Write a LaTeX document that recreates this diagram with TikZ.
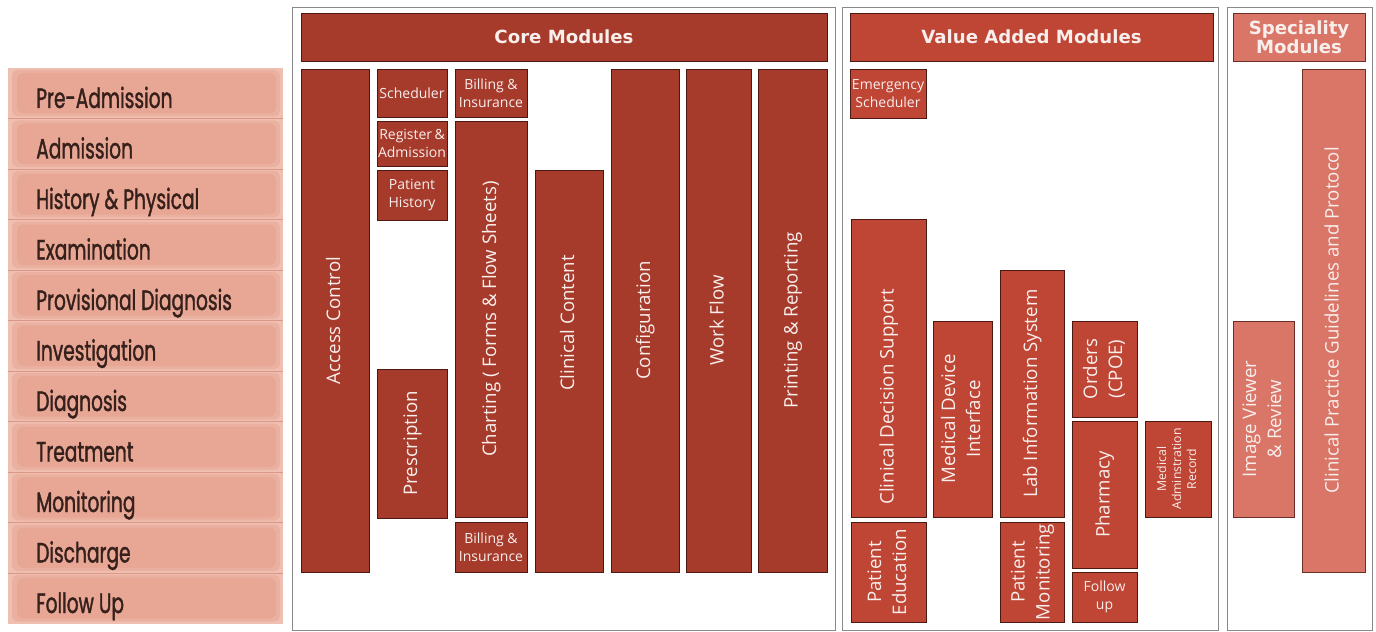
\documentclass[tikz,border=0pt]{standalone}
\usepackage{fontspec}
\setmainfont{Open Sans}
\newfontfamily\hdfont{DejaVu Sans}
\newfontfamily\stagefont{Poppins}[FakeStretch=0.665, FakeBold=1.3]
\usetikzlibrary{shadows}
\definecolor{corefill}{HTML}{A63B2C}
\definecolor{vafill}{HTML}{BF4535}
\definecolor{spfill}{HTML}{D97668}
\definecolor{boxedge}{HTML}{4A1A12}
\definecolor{spedge}{HTML}{6A3028}
\definecolor{boxtext}{HTML}{F8EEEC}
\definecolor{stageout}{HTML}{EFBFB1}
\definecolor{stagein}{HTML}{E8A795}
\definecolor{stageline}{HTML}{DC9684}
\definecolor{stagetext}{HTML}{36201C}
\definecolor{framegray}{HTML}{8A8A8A}
\newcommand{\mbx}[7]{\node[#2, anchor=north west, minimum width={(#5-#3)*0.75pt}, minimum height={(#6-#4)*0.75pt}] (#1) at (#3,#4) {#7};}
\newcommand{\rt}[1]{\rotatebox{90}{\begin{tabular}{@{}c@{}}#1\end{tabular}}}
\tikzset{
  modbox/.style={draw=boxedge, line width=0.5pt, inner sep=0pt, outer sep=0pt, text=boxtext,
    general shadow={fill=black!80!red, opacity=0.85, shadow xshift=1.1pt, shadow yshift=-1.1pt}},
  corebox/.style={modbox, fill=corefill},
  vabox/.style={modbox, fill=vafill},
  spbox/.style={modbox, fill=spfill, draw=spedge},
  bigtxt/.style={font=\fontsize{14}{18.75}\selectfont},
  smalltxt/.style={font=\fontsize{10.5}{13.5}\selectfont, align=center},
  martxt/.style={font=\fontsize{9.2}{11.25}\selectfont},
  headtxt/.style={font=\hdfont\bfseries\fontsize{13.6}{14.5}\selectfont, align=center},
  frame/.style={draw=framegray, line width=1.1pt, fill=white},
  freetxt/.style={text=boxtext, inner sep=0pt},
  stagelabel/.style={font=\stagefont\fontsize{21}{23}\selectfont, text=stagetext, anchor=base west, inner sep=0pt}
}
\begin{document}
\begin{tikzpicture}[x=0.75pt,y=-0.75pt]
\useasboundingbox[fill=white] (0,0) rectangle (1376,631);

% ---------- left stages ----------
\foreach \i/\lab in {0/Pre-Admission,1/Admission,2/History \& Physical,3/Examination,4/Provisional Diagnosis,5/Investigation,6/Diagnosis,7/Treatment,8/Monitoring,9/Discharge,10/Follow Up}{
  \pgfmathsetmacro{\yt}{68+50.5*\i}
  \pgfmathsetmacro{\yb}{\yt+50.5}
  \fill[stageout] (8,\yt) rectangle (283,\yb);
  \fill[stagein!60!stageout, rounded corners=4pt] (12,\yt+2) rectangle (280,\yb-2);
  \fill[stagein, rounded corners=5pt] (17,\yt+5) rectangle (276,\yb-5);
  \node[stagelabel] (stage\i) at (36,\yt+40) {\lab};
}
\foreach \i in {1,...,10}{
  \pgfmathsetmacro{\yl}{68+50.5*\i}
  \draw[stageline, line width=0.6pt] (8,\yl) -- (283,\yl);
}

% ---------- frames ----------
\mbx{corefr}{frame}{292}{7}{835}{630}{}
\mbx{vafr}{frame}{842}{7}{1218}{630}{}
\mbx{spfr}{frame}{1227}{7}{1372}{630}{}

% ---------- headers ----------
\mbx{coreh}{corebox, headtxt}{301}{13}{827}{61}{Core Modules}
\mbx{vah}{vabox, headtxt}{850}{13}{1213}{61}{Value Added Modules}
\mbx{sph}{spbox, headtxt}{1233}{13}{1365}{61}{Speciality\\Modules}

% ---------- core modules ----------
\mbx{acc}{corebox, bigtxt}{301}{69}{369}{572}{\rt{Access Control}}
\mbx{sch}{corebox, smalltxt}{377}{69}{447}{117}{Scheduler}
\mbx{reg}{corebox, smalltxt}{377}{121}{447}{166}{Register\,\&\\Admission}
\mbx{phist}{corebox, smalltxt}{377}{170}{447}{220}{Patient\\History}
\mbx{presc}{corebox, bigtxt}{377}{369}{447}{518}{\rt{Prescription}}
\mbx{bill1}{corebox, smalltxt}{455}{69}{527}{117}{Billing \&\\Insurance}
\mbx{chart}{corebox, bigtxt}{455}{121}{527}{517}{\rt{Charting ( Forms \& Flow Sheets)}}
\mbx{bill2}{corebox, smalltxt}{455}{522}{527}{572}{Billing \&\\Insurance}
\mbx{cc}{corebox}{535}{170}{603}{572}{}
\node[freetxt, bigtxt] (cctxt) at (569,323) {\rt{Clinical Content}};
\mbx{conf}{corebox, bigtxt}{611}{69}{679}{572}{\rt{Configuration}}
\mbx{wf}{corebox, bigtxt}{686}{69}{751}{572}{\rt{Work Flow}}
\mbx{pr}{corebox, bigtxt}{758}{69}{827}{572}{\rt{Printing \& Reporting}}

% ---------- value added modules ----------
\mbx{es}{vabox, smalltxt}{850}{69}{926}{118}{Emergency\\Scheduler}
\mbx{cds}{vabox}{851}{219}{926}{517}{}
\node[freetxt, bigtxt] (cdstxt) at (888.5,397) {\rt{Clinical Decision Support}};
\mbx{pe}{vabox, bigtxt}{851}{522}{926}{622}{\rt{Patient\\Education}}
\mbx{mdi}{vabox, bigtxt}{933}{321}{992}{517}{\rt{Medical Device\\Interface}}
\mbx{lis}{vabox, bigtxt}{1000}{270}{1064}{517}{\rt{Lab Information System}}
\mbx{pm}{vabox, bigtxt}{1000}{522}{1064}{622}{\rt{Patient\\Monitoring}}
\mbx{ord}{vabox, bigtxt}{1072}{321}{1137}{417}{\rt{Orders\\(CPOE)}}
\mbx{ph}{vabox, bigtxt}{1072}{421}{1137}{568}{\rt{Pharmacy}}
\mbx{fu}{vabox, smalltxt}{1072}{572}{1137}{622}{Follow\\up}
\mbx{mar}{vabox, martxt}{1145}{421}{1211}{517}{\rt{Medical\\Adminstration\\Record}}

% ---------- speciality modules ----------
\mbx{ivr}{spbox, bigtxt}{1233}{321}{1294}{517}{\rt{Image Viewer\\\& Review}}
\mbx{cpg}{spbox, bigtxt}{1302}{69}{1365}{572}{\rt{Clinical Practice Guidelines and Protocol}}
\end{tikzpicture}
\end{document}
